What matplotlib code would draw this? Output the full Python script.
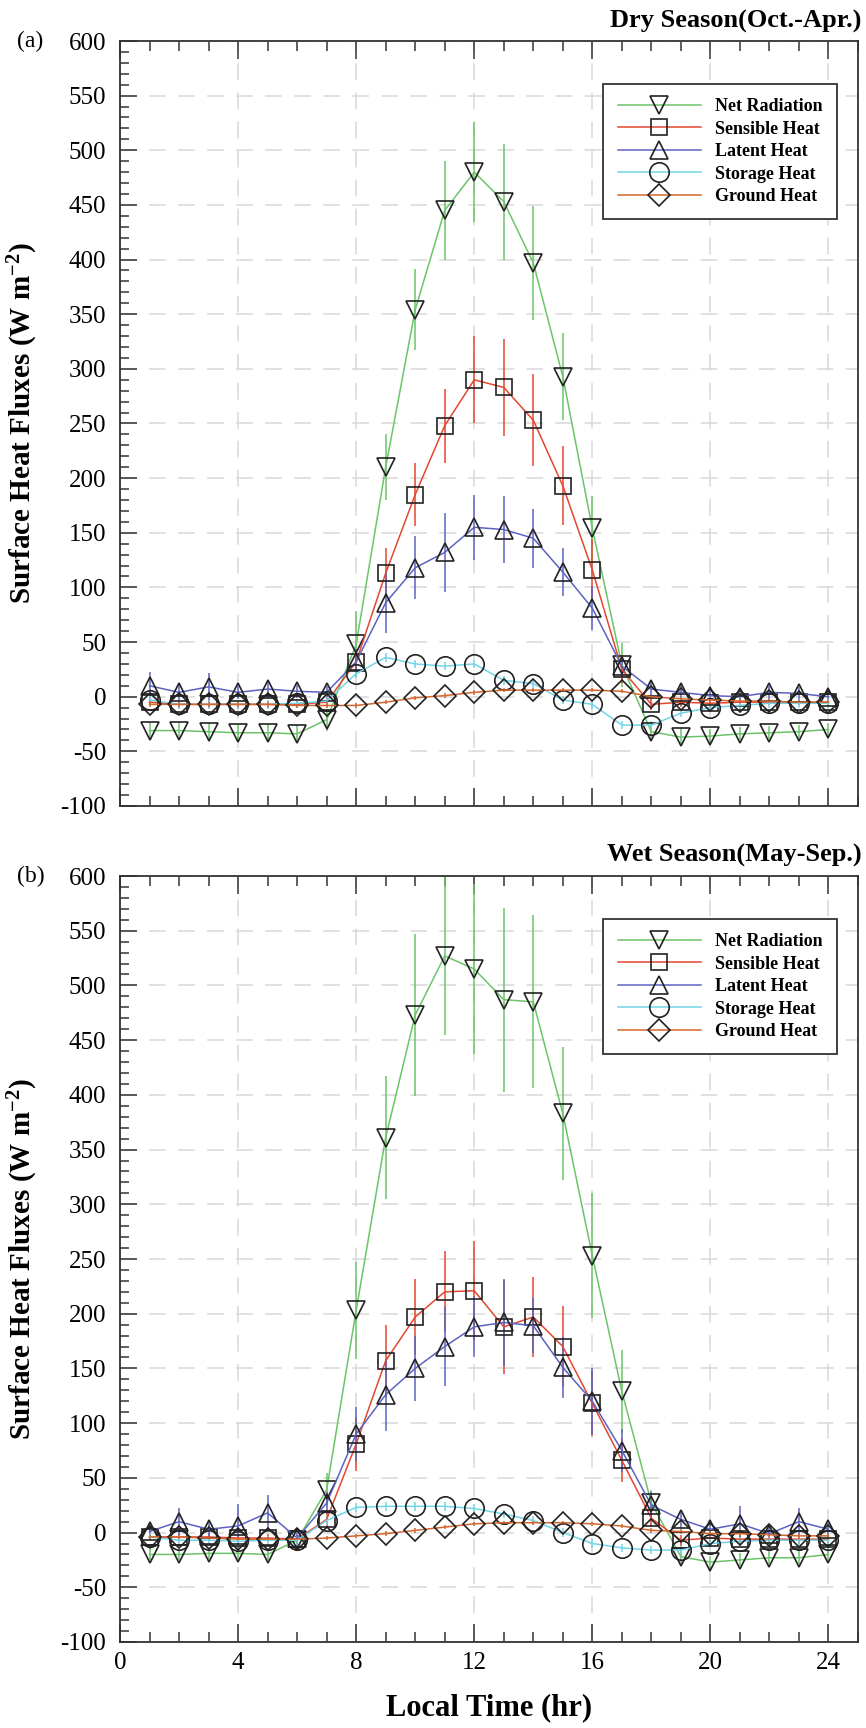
import matplotlib
matplotlib.use('Agg')
import matplotlib.pyplot as plt
from matplotlib.ticker import MultipleLocator

plt.rcParams['font.family'] = ['Liberation Serif', 'DejaVu Serif']
plt.rcParams['axes.unicode_minus'] = False
plt.rcParams['mathtext.fontset'] = 'custom'
plt.rcParams['mathtext.rm'] = 'Liberation Serif:bold'
plt.rcParams['mathtext.default'] = 'rm'

hours = list(range(1, 25))
names = ['Net Radiation', 'Sensible Heat', 'Latent Heat', 'Storage Heat', 'Ground Heat']

# dry season (Oct.-Apr.) hourly means and standard deviations, W m-2
dryNet = [-31, -31, -32, -33, -33, -34, -21, 48, 210, 354, 445, 480,
          453, 397, 293, 154, 29, -32, -37, -36, -34, -33, -32, -30]
dryNetErr = [8, 8, 8, 8, 8, 8, 10, 30, 30, 37, 45, 46,
             53, 52, 40, 30, 20, 8, 8, 6, 6, 6, 6, 6]
drySensible = [-5, -7, -7, -7, -7, -7, -5, 32, 113, 185, 248, 290,
               283, 253, 193, 116, 25, -7, -5, -6, -5, -5, -5, -5]
drySensibleErr = [3, 3, 3, 3, 3, 3, 4, 10, 23, 29, 34, 40,
                  44, 42, 36, 28, 12, 5, 4, 3, 3, 3, 3, 3]
dryLatent = [10, 4, 9, 4, 7, 5, 4, 32, 86, 118, 132, 155,
             153, 145, 114, 81, 28, 7, 4, 1, 0, 4, 3, 0]
dryLatentErr = [13, 8, 13, 6, 8, 6, 6, 12, 28, 29, 36, 30,
                31, 27, 22, 20, 10, 8, 8, 6, 6, 6, 6, 6]
dryStorage = [-3, -7, -7, -7, -7, -6, -4, 21, 36, 30, 28, 30,
              15, 12, -3, -7, -26, -26, -15, -10, -8, -6, -6, -6]
dryStorageErr = [4] * 24
dryGround = [-7, -7, -7, -7, -7, -8, -8, -8, -5, -1, 1, 4,
             6, 6, 6, 6, 5, 0, -2, -3, -4, -4, -5, -5]
dryGroundErr = [2] * 24

# wet season (May-Sep.)
wetNet = [-20, -20, -19, -19, -20, -7, 39, 203, 361, 473, 527, 515,
          487, 485, 383, 253, 129, 27, -22, -27, -25, -23, -23, -20]
wetNetErr = [5, 5, 5, 5, 5, 5, 15, 44, 56, 74, 72, 78,
             84, 79, 61, 57, 38, 12, 8, 6, 6, 6, 6, 6]
wetSensible = [-4, -4, -4, -5, -5, -6, 12, 81, 157, 197, 220, 221,
               188, 197, 170, 118, 66, 13, -7, -5, -6, -6, -6, -6]
wetSensibleErr = [4, 4, 4, 4, 4, 4, 8, 25, 33, 35, 37, 45,
                  43, 37, 37, 30, 20, 8, 5, 4, 4, 4, 4, 4]
wetLatent = [1, 10, 3, 6, 18, -5, 27, 90, 126, 150, 170, 188,
             192, 189, 151, 120, 75, 25, 12, 3, 8, -1, 10, 3]
wetLatentErr = [8, 12, 8, 20, 16, 8, 10, 25, 33, 30, 36, 28,
                40, 25, 28, 30, 20, 12, 8, 6, 16, 6, 12, 6]
wetStorage = [-4, -7, -7, -8, -7, -7, 11, 23, 24, 24, 24, 22,
              17, 11, 0, -10, -14, -16, -16, -10, -8, -7, -7, -7]
wetStorageErr = [4] * 24
wetGround = [-4, -4, -5, -6, -6, -6, -5, -3, -1, 2, 5, 8,
             9, 9, 9, 8, 6, 2, 1, -1, -1, -2, -3, -3]
wetGroundErr = [2] * 24

colors = ['#6cc46a', '#e4472f', '#5b63c2', '#72d4e8', '#d4672c']
markers = ['v', 's', '^', 'o', 'D']
msizes = [13, 11, 13, 14, 11]


def drawSeason(ax, series, errs, title, tag, titleY):
    for vals, err, c, m, ms, name in zip(series, errs, colors, markers, msizes, names):
        ax.errorbar(hours, vals, yerr=err, fmt='none', ecolor=c, elinewidth=1.1, capsize=0, zorder=2)
        ax.plot(hours, vals, color=c, lw=1.1, marker=m, ms=ms, mfc='none',
                mec='#222222', mew=1.2, label=name, zorder=3)

    ax.set_xlim(0, 25)
    ax.set_ylim(-100, 600)
    ax.xaxis.set_major_locator(MultipleLocator(4))
    ax.xaxis.set_minor_locator(MultipleLocator(1))
    ax.yaxis.set_major_locator(MultipleLocator(50))
    ax.yaxis.set_minor_locator(MultipleLocator(10))
    ax.tick_params(which='both', direction='in', top=True, right=False, colors='#333333', width=1.1)
    ax.tick_params(axis='x', which='major', length=13, labelsize=18, pad=7, labelcolor='black')
    ax.tick_params(axis='x', which='minor', length=7)
    ax.tick_params(axis='y', which='major', length=12, labelsize=18, pad=10, labelcolor='black')
    ax.tick_params(axis='y', which='minor', length=6.5)
    for s in ax.spines.values():
        s.set_color('#333333')
        s.set_linewidth(1.3)

    ax.grid(True, which='major', color='#d9d9d9', linestyle=(0, (11, 8)), linewidth=1.1)
    ax.set_axisbelow(True)

    ax.set_ylabel('Surface Heat Fluxes (W m$^{-2}$)', fontsize=21, fontweight='bold')
    ax.yaxis.set_label_coords(-0.108, 0.5)

    leg = ax.legend(loc='upper right', bbox_to_anchor=(0.972, 0.944), borderaxespad=0,
                    fancybox=False, prop={'weight': 'bold', 'size': 13}, handlelength=4.6,
                    labelspacing=0.3, handletextpad=0.8, borderpad=0.8, numpoints=1, framealpha=1)
    leg.get_frame().set_edgecolor('#333333')
    leg.get_frame().set_linewidth(1.3)

    fig.text(0.995, titleY, title, ha='right', va='baseline', fontsize=19, fontweight='bold')
    fig.text(17 / 866, ax.get_position().y1, tag, ha='left', va='center', fontsize=17)


fig = plt.figure(figsize=(8.66, 17.28), dpi=100)
axDry = fig.add_axes([120 / 866, 1 - 806 / 1728, 738 / 866, 765 / 1728])
axWet = fig.add_axes([120 / 866, 1 - 1642 / 1728, 738 / 866, 766 / 1728])

drawSeason(axDry,
           [dryNet, drySensible, dryLatent, dryStorage, dryGround],
           [dryNetErr, drySensibleErr, dryLatentErr, dryStorageErr, dryGroundErr],
           'Dry Season(Oct.-Apr.)', '(a)', 1 - 28 / 1728)
drawSeason(axWet,
           [wetNet, wetSensible, wetLatent, wetStorage, wetGround],
           [wetNetErr, wetSensibleErr, wetLatentErr, wetStorageErr, wetGroundErr],
           'Wet Season(May-Sep.)', '(b)', 1 - 862 / 1728)

axDry.tick_params(labelbottom=False)
axWet.set_xlabel('Local Time (hr)', fontsize=22, fontweight='bold', labelpad=14)

fig.savefig('out.png', dpi=100)
